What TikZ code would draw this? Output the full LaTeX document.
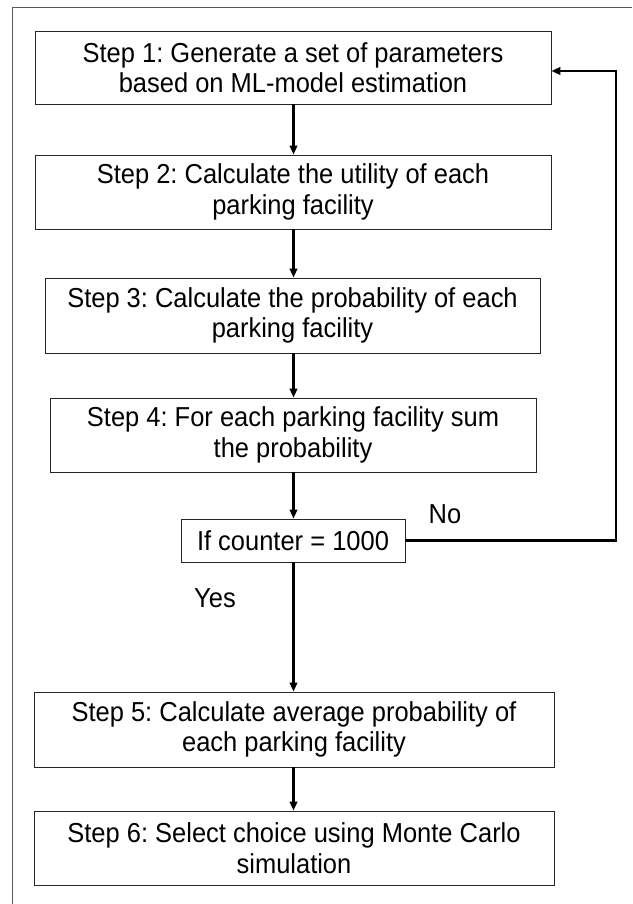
\documentclass[tikz,border=0pt]{standalone}
\usepackage{fontspec}
\setmainfont[FakeStretch=0.93]{Liberation Sans}
\usetikzlibrary{arrows.meta}
\begin{document}
\frenchspacing
\begin{tikzpicture}[x=1pt,y=-1pt,
  stepbox/.style={draw=black!85,line width=0.8pt,fill=white,inner sep=0pt,
    align=center,font=\fontsize{27.4}{30.5}\selectfont},
  flow/.style={line width=2.2pt,-{Triangle[length=9pt,width=7.5pt]}},
  lbl/.style={inner sep=0pt,font=\fontsize{27.4}{30.5}\selectfont}]
\useasboundingbox (0,0) rectangle (632,904);
% frame
\draw[line width=0.8pt,black!65] (12.5,904) -- (12.5,7) -- (632,7);
% steps
\node[stepbox,minimum width=516pt,minimum height=73pt] (s1) at (293,67.5)
  {Step 1: Generate a set of parameters\\based on ML-model estimation};
\node[stepbox,minimum width=516pt,minimum height=74pt] (s2) at (293,192)
  {Step 2: Calculate the utility of each\\parking facility};
\node[stepbox,minimum width=495pt,minimum height=75pt] (s3) at (292.5,315.5)
  {Step 3: Calculate the probability of each\\parking facility};
\node[stepbox,minimum width=486pt,minimum height=74pt] (s4) at (293,435)
  {Step 4: For each parking facility sum\\the probability};
\node[stepbox,minimum width=224pt,minimum height=43pt] (dec) at (293,540.5)
  {If counter = 1000};
\node[stepbox,minimum width=520pt,minimum height=75pt] (s5) at (294,729.5)
  {Step 5: Calculate average probability of\\each parking facility};
\node[stepbox,minimum width=520pt,minimum height=74pt] (s6) at (294,848)
  {Step 6: Select choice using Monte Carlo\\simulation};
% labels
\node[lbl] (no) at (445,514) {No};
\node[lbl] (yes) at (215,598) {Yes};
% connectors
\coordinate (cx) at (293.5,0);
\draw[flow] (cx |- s1.south) -- (cx |- s2.north);
\draw[flow] (cx |- s2.south) -- (cx |- s3.north);
\draw[flow] (cx |- s3.south) -- (cx |- s4.north);
\draw[flow] (cx |- s4.south) -- (cx |- dec.north);
\draw[flow] (cx |- dec.south) -- (cx |- s5.north);
\draw[flow] (cx |- s5.south) -- (cx |- s6.north);
\coordinate (loop) at (616,71);
\draw[flow] (dec.east) -- (loop |- dec.east) -- (loop) -- (s1.east |- loop);
\end{tikzpicture}
\end{document}
